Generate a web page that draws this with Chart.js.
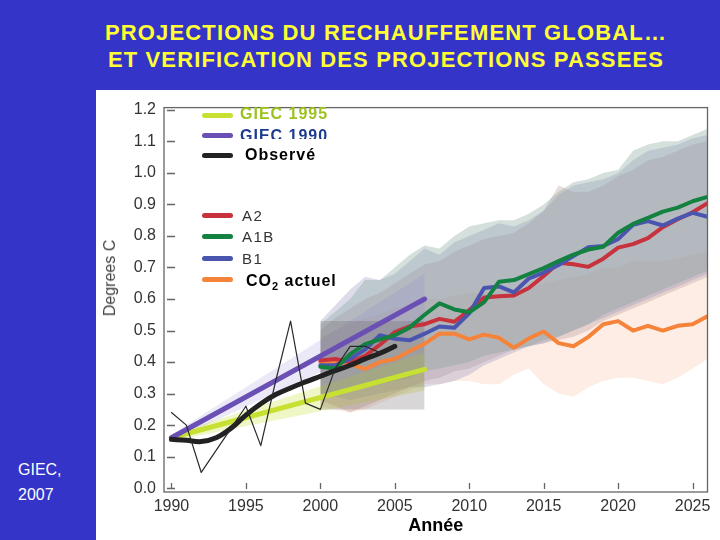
<!DOCTYPE html>
<html>
<head>
<meta charset="utf-8">
<script src="https://cdn.jsdelivr.net/npm/chart.js@4"></script>
<style>
  html, body { margin: 0; padding: 0; }
  body { width: 720px; height: 540px; background: #3434c8; position: relative; overflow: hidden;
         font-family: "Liberation Sans", Arial, sans-serif; }
  #title { position: absolute; left: 0; top: 19px; width: 772px; text-align: center; color: #ffff33;
           font-weight: bold; font-size: 22px; line-height: 27px; letter-spacing: 1.15px; }
  #panel { position: absolute; left: 96px; top: 90px; width: 624px; height: 450px; background: #fff; }
  #chart { position: absolute; left: 96px; top: 90px; }
  #ytitle { position: absolute; left: 110px; top: 278px; transform: translate(-50%, -50%) rotate(-90deg);
            white-space: nowrap; color: #444; font-size: 16px; line-height: 18px; }
  #source { position: absolute; left: 18px; top: 457px; color: #fff; font-size: 16px; line-height: 25px; }
  .sw { position: absolute; left: 202px; width: 31px; height: 5px; border-radius: 3px; }
  .lab { position: absolute; white-space: nowrap; font-size: 16px; line-height: 18px; font-weight: bold; letter-spacing: 1px; }
  .scen { font-weight: normal; color: #333; font-size: 15px; letter-spacing: 1.5px; }
  .box { position: absolute; background: #fff; }
</style>
</head>
<body>
<div id="title">PROJECTIONS DU RECHAUFFEMENT GLOBAL…<br>ET VERIFICATION DES PROJECTIONS PASSEES</div>
<div id="panel"></div>
<canvas id="chart" width="624" height="450"></canvas>
<div id="ytitle">Degrees C</div>

<div id="legend">
  <div class="sw" style="top:113px;background:#c8e032"></div>
  <div class="lab" style="left:240px;top:105px;color:#9cc21e">GIEC 1995</div>
  <div class="sw" style="top:133px;background:#6a50b4"></div>
  <div class="lab" style="left:240px;top:127px;color:#1c3b8c">GIEC 1990</div>
  <div class="sw" style="top:153px;background:#222"></div>
  <div class="box" style="left:238px;top:139px;width:90px;height:28px"></div>
  <div class="lab" style="left:245px;top:146px;color:#000">Observé</div>
  <div class="sw" style="top:213px;background:#c8323c"></div>
  <div class="lab scen" style="left:242px;top:207px">A2</div>
  <div class="sw" style="top:234px;background:#13813f"></div>
  <div class="lab scen" style="left:242px;top:228px">A1B</div>
  <div class="sw" style="top:256px;background:#4a55b0"></div>
  <div class="lab scen" style="left:242px;top:250px">B1</div>
  <div class="sw" style="top:277px;background:#f5843a"></div>
  <div class="box" style="left:242px;top:268px;width:98px;height:26px"></div>
  <div class="lab" style="left:246px;top:272px;color:#000">CO<sub style="font-size:11px;line-height:0">2</sub> actuel</div>
</div>

<div id="source">GIEC,<br>2007</div>

<script>
// x / y ticks
const xTicks = [1990, 1995, 2000, 2005, 2010, 2015, 2020, 2025];
const yTicks = [0.0, 0.1, 0.2, 0.3, 0.4, 0.5, 0.6, 0.7, 0.8, 0.9, 1.0, 1.1, 1.2];

// observed temperatures
const obsAnnualYears = [1990, 1991, 1992, 1993, 1994, 1995, 1996, 1997, 1998, 1999, 2000, 2001, 2002, 2003, 2004];
const obsAnnual = [0.24, 0.20, 0.05, 0.12, 0.19, 0.26, 0.135, 0.34, 0.53, 0.27, 0.25, 0.38, 0.45, 0.45, 0.43];
const obsSmoothYears = [1990, 1991, 1992, 1993, 1994, 1995, 1996, 1997, 1998, 1999, 2000, 2001, 2002, 2003, 2004, 2005];
const obsSmooth = [0.155, 0.152, 0.148, 0.16, 0.19, 0.232, 0.268, 0.297, 0.318, 0.337, 0.355, 0.373, 0.39, 0.41, 0.428, 0.45];

// past IPCC projections
const pastYears = [1990, 2007];
const giec1990 = [0.16, 0.60];
const giec1990Lo = [0.15, 0.52];
const giec1990Hi = [0.17, 0.68];
const giec1995 = [0.16, 0.377];
const giec1995Lo = [0.15, 0.31];
const giec1995Hi = [0.17, 0.43];

// grey box 2000-2007
const boxYears = [2000, 2007];
const boxLo = [0.25, 0.25];
const boxHi = [0.53, 0.53];

// AR4 scenarios
const projYears = [2000, 2001, 2002, 2003, 2004, 2005, 2006, 2007, 2008, 2009, 2010, 2011, 2012, 2013,
  2014, 2015, 2016, 2017, 2018, 2019, 2020, 2021, 2022, 2023, 2024, 2025, 2026];
const a2 = [0.405, 0.41, 0.40, 0.42, 0.455, 0.495, 0.513, 0.52, 0.537, 0.528, 0.565, 0.605, 0.609, 0.611,
  0.635, 0.673, 0.715, 0.71, 0.702, 0.728, 0.763, 0.774, 0.793, 0.828, 0.853, 0.875, 0.904];
const a1b = [0.385, 0.38, 0.425, 0.457, 0.472, 0.485, 0.51, 0.55, 0.586, 0.567, 0.558, 0.59, 0.655, 0.66,
  0.679, 0.698, 0.72, 0.741, 0.757, 0.766, 0.81, 0.838, 0.857, 0.877, 0.89, 0.91, 0.924];
const b1 = [0.39, 0.39, 0.41, 0.44, 0.485, 0.474, 0.469, 0.49, 0.513, 0.509, 0.555, 0.635, 0.64, 0.621,
  0.665, 0.684, 0.708, 0.736, 0.764, 0.768, 0.79, 0.835, 0.847, 0.833, 0.855, 0.873, 0.861];
const co2 = [0.40, 0.40, 0.395, 0.378, 0.40, 0.41, 0.435, 0.458, 0.49, 0.49, 0.472, 0.487, 0.477, 0.445,
  0.475, 0.497, 0.46, 0.45, 0.48, 0.52, 0.53, 0.50, 0.515, 0.50, 0.515, 0.52, 0.545];

// uncertainty ranges
const a2Hi = [0.50, 0.54, 0.57, 0.60, 0.62, 0.65, 0.68, 0.71, 0.72, 0.75, 0.77, 0.79, 0.80, 0.81,
  0.84, 0.88, 0.96, 0.94, 0.94, 0.96, 0.99, 1.01, 1.04, 1.05, 1.07, 1.09, 1.10];
const a2Lo = [0.28, 0.26, 0.24, 0.26, 0.28, 0.30, 0.32, 0.34, 0.35, 0.37, 0.38, 0.40, 0.42, 0.44,
  0.45, 0.46, 0.47, 0.48, 0.50, 0.53, 0.55, 0.57, 0.59, 0.61, 0.63, 0.65, 0.67];
const a1bHi = [0.52, 0.56, 0.60, 0.66, 0.66, 0.70, 0.74, 0.77, 0.76, 0.80, 0.83, 0.84, 0.85, 0.85,
  0.87, 0.90, 0.94, 0.97, 0.98, 1.00, 1.01, 1.07, 1.09, 1.10, 1.10, 1.12, 1.14];
const a1bLo = [0.30, 0.30, 0.31, 0.32, 0.33, 0.34, 0.35, 0.37, 0.38, 0.39, 0.40, 0.42, 0.43, 0.44,
  0.45, 0.47, 0.48, 0.50, 0.52, 0.55, 0.57, 0.59, 0.61, 0.63, 0.65, 0.67, 0.69];
const b1Hi = [0.53, 0.58, 0.63, 0.67, 0.66, 0.68, 0.72, 0.76, 0.74, 0.78, 0.80, 0.82, 0.84, 0.83,
  0.85, 0.88, 0.93, 0.96, 0.97, 0.98, 1.00, 1.04, 1.07, 1.08, 1.09, 1.11, 1.12];
const b1Lo = [0.30, 0.29, 0.28, 0.29, 0.30, 0.31, 0.32, 0.32, 0.33, 0.34, 0.36, 0.39, 0.41, 0.43,
  0.45, 0.46, 0.48, 0.50, 0.52, 0.54, 0.56, 0.58, 0.60, 0.62, 0.64, 0.66, 0.68];
const co2Hi = [0.48, 0.50, 0.52, 0.54, 0.55, 0.57, 0.58, 0.60, 0.60, 0.61, 0.62, 0.62, 0.63, 0.63,
  0.64, 0.65, 0.66, 0.67, 0.68, 0.70, 0.70, 0.72, 0.72, 0.72, 0.73, 0.74, 0.75];
const co2Lo = [0.26, 0.25, 0.24, 0.25, 0.27, 0.29, 0.31, 0.33, 0.33, 0.34, 0.34, 0.33, 0.33, 0.36,
  0.38, 0.33, 0.30, 0.29, 0.32, 0.34, 0.35, 0.35, 0.34, 0.33, 0.35, 0.38, 0.41];

const pts = (xs, ys) => xs.map((x, i) => ({ x: x, y: ys[i] }));

function line(label, xs, ys, color, width, extra) {
  return Object.assign({
    label: label, data: pts(xs, ys), borderColor: color, borderWidth: width,
    borderCapStyle: "round", borderJoinStyle: "round", pointRadius: 0, fill: false, tension: 0,
  }, extra || {});
}

function band(label, xs, lo, hi, color) {
  const clear = "rgba(0,0,0,0)";
  return [
    { label: label + " min", data: pts(xs, lo), borderColor: clear, borderWidth: 1, pointRadius: 0, fill: false },
    { label: label + " max", data: pts(xs, hi), borderColor: clear, borderWidth: 1, pointRadius: 0,
      fill: "-1", backgroundColor: color },
  ];
}

const frame = {
  id: "frame",
  afterDatasetsDraw(chart) {
    const { ctx, chartArea: a, scales: { x, y } } = chart;
    ctx.save();
    ctx.strokeStyle = "#666";
    ctx.lineWidth = 1.3;
    ctx.strokeRect(a.left, a.top, a.right - a.left, a.bottom - a.top);
    ctx.beginPath();
    y.ticks.forEach(t => {
      const py = Math.round(y.getPixelForValue(t.value)) + 0.5;
      ctx.moveTo(a.left + 3, py);
      ctx.lineTo(a.left + 11, py);
    });
    x.ticks.forEach(t => {
      const px = Math.round(x.getPixelForValue(t.value)) + 0.5;
      ctx.moveTo(px, a.bottom - 3);
      ctx.lineTo(px, a.bottom - 9);
    });
    ctx.stroke();
    ctx.restore();
  },
};

new Chart(document.getElementById("chart"), {
  type: "line",
  data: {
    datasets: [
      line("Observé (annuel)", obsAnnualYears, obsAnnual, "#2a2a2a", 1.2),
      line("Observé", obsSmoothYears, obsSmooth, "#222", 5, { tension: 0.4 }),
      line("GIEC 1990", pastYears, giec1990, "#6a50b4", 5),
      line("GIEC 1995", pastYears, giec1995, "#c8e032", 5),
      line("A1B", projYears, a1b, "#13813f", 4),
      line("B1", projYears, b1, "#4a55b0", 4),
      line("A2", projYears, a2, "#c8323c", 4),
      line("CO2 actuel", projYears, co2, "#f5843a", 4),
      ...band("box", boxYears, boxLo, boxHi, "rgba(100,92,92,0.25)"),
      ...band("GIEC 1990", pastYears, giec1990Lo, giec1990Hi, "rgba(130,110,210,0.16)"),
      ...band("GIEC 1995", pastYears, giec1995Lo, giec1995Hi, "rgba(200,225,50,0.28)"),
      ...band("A1B", projYears, a1bLo, a1bHi, "rgba(125,160,150,0.32)"),
      ...band("B1", projYears, b1Lo, b1Hi, "rgba(150,150,190,0.32)"),
      ...band("A2", projYears, a2Lo, a2Hi, "rgba(180,150,150,0.32)"),
      ...band("CO2 actuel", projYears, co2Lo, co2Hi, "rgba(245,150,100,0.17)"),
    ],
  },
  options: {
    responsive: false,
    animation: false,
    layout: { padding: { top: 11.5, right: 12.5, left: 0, bottom: 0 } },
    plugins: { legend: { display: false }, tooltip: { enabled: false } },
    scales: {
      x: {
        type: "linear", min: 1989.5, max: 2026,
        afterBuildTicks: s => { s.ticks = xTicks.map(v => ({ value: v })); },
        afterFit: s => { s.height = 48; },
        grid: { display: false, drawTicks: false },
        border: { display: false },
        ticks: { color: "#333", font: { size: 16, family: "Liberation Sans" }, padding: 5, maxRotation: 0,
                 callback: v => String(v) },
        title: { display: true, text: "Année", color: "#000",
                 font: { size: 18, weight: "bold", family: "Liberation Sans" }, padding: { top: 0, bottom: 3 } },
      },
      y: {
        min: -0.012, max: 1.207,
        afterBuildTicks: s => { s.ticks = yTicks.map(v => ({ value: v })); },
        afterFit: s => { s.width = 68; },
        grid: { display: false, drawTicks: false },
        border: { display: false },
        ticks: { color: "#333", font: { size: 16, family: "Liberation Sans" }, padding: 8,
                 callback: v => v.toFixed(1) },
      },
    },
  },
  plugins: [frame],
});
</script>
</body>
</html>
